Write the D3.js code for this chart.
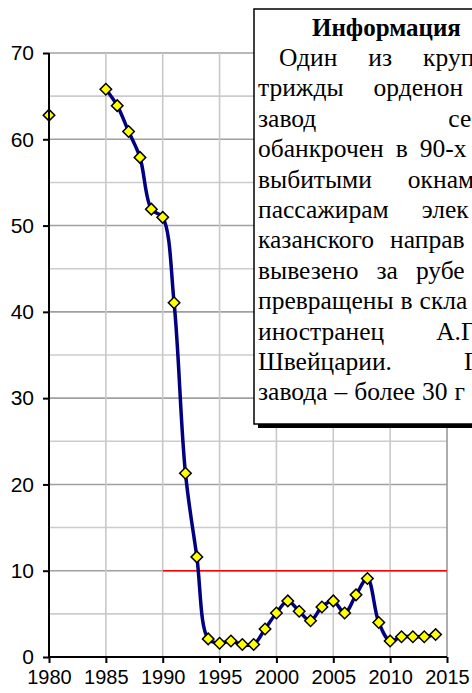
<!DOCTYPE html>
<html><head><meta charset="utf-8">
<script src="https://cdn.jsdelivr.net/npm/d3@7"></script>
<style>body{margin:0;background:#fff}svg{display:block}</style>
</head><body>
<svg id="c" width="472" height="693"></svg>
<script>
// ---- data ----
const years = d3.range(1980, 2015);
const values = [62.8, null, null, null, null, 65.8, 63.9, 60.9, 57.9, 51.9, 50.95, 41.05, 21.3, 11.6, 2.1, 1.6, 1.85, 1.45, 1.45, 3.25, 5.1, 6.5, 5.3, 4.2, 5.8, 6.5, 5.1, 7.2, 9.1, 4.0, 1.85, 2.35, 2.35, 2.35, 2.6];
const thresholdValue = 10;
const thresholdYears = [1990, 2015];
const xTicks = [1980, 1985, 1990, 1995, 2000, 2005, 2010, 2015];
const yTicks = [0, 10, 20, 30, 40, 50, 60, 70];
const infoTitle = "Информация";
const infoLines = [
  "Один из круп",
  "трижды орденон",
  "завод се",
  "обанкрочен в 90-х",
  "выбитыми окнам",
  "пассажирам элек",
  "казанского направ",
  "вывезено за рубе",
  "превращены в скла",
  "иностранец А.Г",
  "Швейцарии. Г",
  "завода – более 30 г"
];

// ---- layout ----
const plot = {left: 49, right: 447, top: 53, bottom: 657};
const svg = d3.select("#c");
const x = d3.scaleLinear().domain([1980, 2015]).range([plot.left, plot.right]);
const y = d3.scaleLinear().domain([0, 70]).range([plot.bottom, plot.top]);
const data = years.map((yr, i) => ({year: yr, value: values[i]}));

// gridlines
const g = svg.append("g");
g.selectAll(".hg").data(d3.range(5, 71, 5)).join("line")
  .attr("x1", plot.left).attr("x2", plot.right)
  .attr("y1", d => y(d)).attr("y2", d => y(d))
  .attr("stroke", d => d % 10 === 0 ? "#a0a0a0" : "#cccccc")
  .attr("stroke-width", 1.6);
g.selectAll(".vg").data(xTicks.slice(1)).join("line")
  .attr("x1", d => x(d)).attr("x2", d => x(d))
  .attr("y1", plot.top).attr("y2", plot.bottom)
  .attr("stroke", d => d === 2015 ? "#999999" : "#c8c8c8")
  .attr("stroke-width", 1.6);

// threshold
svg.append("line")
  .attr("x1", x(thresholdYears[0])).attr("x2", x(thresholdYears[1]))
  .attr("y1", y(thresholdValue)).attr("y2", y(thresholdValue))
  .attr("stroke", "#ff0000").attr("stroke-width", 1.6);

// series line
const line = d3.line()
  .defined(d => d.value != null)
  .x(d => x(d.year)).y(d => y(d.value))
  .curve(d3.curveCatmullRom.alpha(0.5));
svg.append("path").datum(data)
  .attr("d", line).attr("fill", "none")
  .attr("stroke", "#000080").attr("stroke-width", 3.5);

// markers
const sym = d3.symbol(d3.symbolSquare, 66);
svg.selectAll(".m").data(data.filter(d => d.value != null)).join("path")
  .attr("d", sym)
  .attr("transform", d => `translate(${x(d.year)},${y(d.value)}) rotate(45)`)
  .attr("fill", "#ffff00").attr("stroke", "#000").attr("stroke-width", 1.5);

// axes
const axFont = "'Liberation Sans', Arial, sans-serif";
const ya = svg.append("g").attr("transform", `translate(${plot.left},0)`)
  .call(d3.axisLeft(y).tickValues(yTicks).tickSize(6).tickPadding(9).tickFormat(d3.format("d")));
const xa = svg.append("g").attr("transform", `translate(0,${plot.bottom})`)
  .call(d3.axisBottom(x).tickValues(xTicks).tickSize(6).tickPadding(7).tickFormat(d3.format("d")));
[ya, xa].forEach(a => {
  a.select(".domain").attr("stroke", "#000").attr("stroke-width", 2);
  a.selectAll(".tick line").attr("stroke", "#000").attr("stroke-width", 2);
  a.selectAll("text").attr("fill", "#000").style("font-family", axFont).style("font-size", "20px");
});
ya.selectAll("text").style("font-size", "21px");
xa.select(".domain").attr("d", `M${plot.left},0H${plot.right}`);
ya.select(".domain").attr("d", `M0,${plot.bottom}V${plot.top}`);

// info box
const box = {x: 254, y: 9, w: 300, h: 415};
svg.append("rect").attr("x", box.x + 4).attr("y", box.y + 4)
  .attr("width", box.w).attr("height", box.h).attr("fill", "#000");
svg.append("rect").attr("x", box.x).attr("y", box.y)
  .attr("width", box.w).attr("height", box.h)
  .attr("fill", "#fff").attr("stroke", "#000").attr("stroke-width", 1.5);

const tFont = "'Liberation Serif', 'Times New Roman', serif";
svg.append("text").attr("x", 312).attr("y", 36)
  .style("font-family", tFont).style("font-size", "25px").style("font-weight", "bold")
  .text(infoTitle);

const lineStart = [279, 258, 258, 258, 258, 258, 258, 258, 258, 258, 258, 258];
const lineGap = [31, 30, 132, 12, 36, 33, 16, 18, 7, 52, 72, 7];
infoLines.forEach((ln, i) => {
  const words = ln.split(" ");
  const t = svg.append("text").attr("y", 66 + i * 30.4)
    .style("font-family", tFont).style("font-size", "25.5px");
  let cx = lineStart[i];
  words.forEach(w => {
    const ts = t.append("tspan").attr("x", cx).text(w);
    cx += ts.node().getComputedTextLength() + lineGap[i];
  });
});
</script>
</body></html>
